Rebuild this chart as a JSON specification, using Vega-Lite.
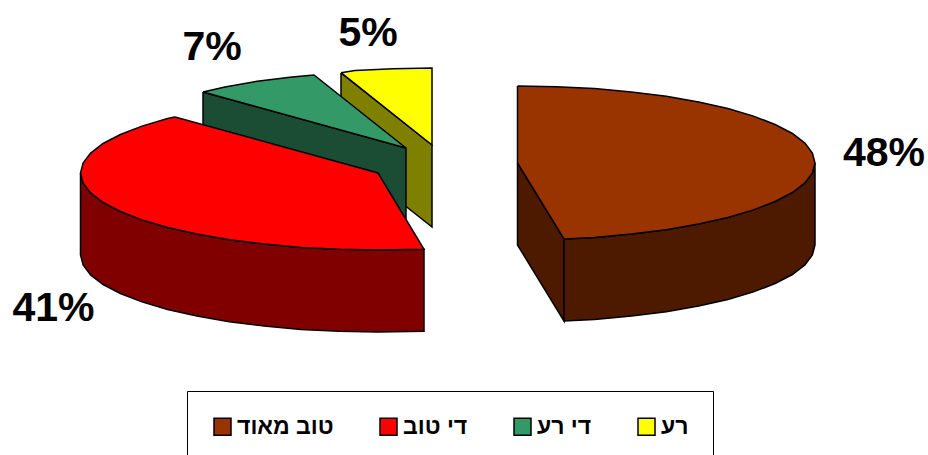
{"$schema":"https://vega.github.io/schema/vega-lite/v6.json","width":928,"height":455,"padding":0,"autosize":{"type":"none"},"background":"white","view":{"stroke":null},
"config":{"font":"Liberation Sans"},
"layer":[
{"data":{"values":[
{"face":"רע צד","part":"a","seq":1,"x":341,"y":73},{"face":"רע צד","part":"a","seq":2,"x":432,"y":145},{"face":"רע צד","part":"a","seq":3,"x":432,"y":227},{"face":"רע צד","part":"a","seq":4,"x":341,"y":155},{"face":"רע צד","part":"a","seq":5,"x":341,"y":73},
{"face":"רע","part":"t","seq":1,"x":341,"y":72.7},{"face":"רע","part":"t","seq":2,"x":355,"y":70.6},{"face":"רע","part":"t","seq":3,"x":393.2,"y":68.7},{"face":"רע","part":"t","seq":4,"x":432,"y":68},{"face":"רע","part":"t","seq":5,"x":432,"y":145},{"face":"רע","part":"t","seq":6,"x":341,"y":72.7},
{"face":"די רע צד","part":"a","seq":1,"x":203,"y":92},{"face":"די רע צד","part":"a","seq":2,"x":406,"y":148},{"face":"די רע צד","part":"a","seq":3,"x":406,"y":230},{"face":"די רע צד","part":"a","seq":4,"x":203,"y":174},{"face":"די רע צד","part":"a","seq":5,"x":203,"y":92},
{"face":"די רע","part":"t","seq":1,"x":203,"y":92},{"face":"די רע","part":"t","seq":2,"x":224.9,"y":86.9},{"face":"די רע","part":"t","seq":3,"x":257.2,"y":81.3},{"face":"די רע","part":"t","seq":4,"x":292.1,"y":76.9},{"face":"די רע","part":"t","seq":5,"x":314,"y":75},{"face":"די רע","part":"t","seq":6,"x":406,"y":148},{"face":"די רע","part":"t","seq":7,"x":203,"y":92},
{"face":"די טוב צד","part":"a","seq":1,"x":80.5,"y":173},{"face":"די טוב צד","part":"a","seq":2,"x":83.1,"y":183},{"face":"די טוב צד","part":"a","seq":3,"x":90.6,"y":192.9},{"face":"די טוב צד","part":"a","seq":4,"x":103.1,"y":202.5},{"face":"די טוב צד","part":"a","seq":5,"x":120.4,"y":211.5},{"face":"די טוב צד","part":"a","seq":6,"x":142,"y":219.9},{"face":"די טוב צד","part":"a","seq":7,"x":167.6,"y":227.4},{"face":"די טוב צד","part":"a","seq":8,"x":196.9,"y":234.1},{"face":"די טוב צד","part":"a","seq":9,"x":229.2,"y":239.7},{"face":"די טוב צד","part":"a","seq":10,"x":264.1,"y":244.1},{"face":"די טוב צד","part":"a","seq":11,"x":301,"y":247.4},{"face":"די טוב צד","part":"a","seq":12,"x":339.2,"y":249.3},{"face":"די טוב צד","part":"a","seq":13,"x":378,"y":250},{"face":"די טוב צד","part":"a","seq":14,"x":424,"y":249.3},
{"face":"די טוב צד","part":"a","seq":15,"x":424,"y":331.3},{"face":"די טוב צד","part":"a","seq":16,"x":378,"y":332},{"face":"די טוב צד","part":"a","seq":17,"x":339.2,"y":331.3},{"face":"די טוב צד","part":"a","seq":18,"x":301,"y":329.4},{"face":"די טוב צד","part":"a","seq":19,"x":264.1,"y":326.1},{"face":"די טוב צד","part":"a","seq":20,"x":229.2,"y":321.7},{"face":"די טוב צד","part":"a","seq":21,"x":196.9,"y":316.1},{"face":"די טוב צד","part":"a","seq":22,"x":167.6,"y":309.4},{"face":"די טוב צד","part":"a","seq":23,"x":142,"y":301.9},{"face":"די טוב צד","part":"a","seq":24,"x":120.4,"y":293.5},{"face":"די טוב צד","part":"a","seq":25,"x":103.1,"y":284.5},{"face":"די טוב צד","part":"a","seq":26,"x":90.6,"y":274.9},{"face":"די טוב צד","part":"a","seq":27,"x":83.1,"y":265},{"face":"די טוב צד","part":"a","seq":28,"x":80.5,"y":255},{"face":"די טוב צד","part":"a","seq":29,"x":80.5,"y":173},
{"face":"די טוב","part":"t","seq":1,"x":175,"y":117},{"face":"די טוב","part":"t","seq":2,"x":167.6,"y":118.6},{"face":"די טוב","part":"t","seq":3,"x":142,"y":126.1},{"face":"די טוב","part":"t","seq":4,"x":120.4,"y":134.5},{"face":"די טוב","part":"t","seq":5,"x":103.1,"y":143.5},{"face":"די טוב","part":"t","seq":6,"x":90.6,"y":153.1},{"face":"די טוב","part":"t","seq":7,"x":83.1,"y":163},{"face":"די טוב","part":"t","seq":8,"x":80.5,"y":173},{"face":"די טוב","part":"t","seq":9,"x":83.1,"y":183},{"face":"די טוב","part":"t","seq":10,"x":90.6,"y":192.9},{"face":"די טוב","part":"t","seq":11,"x":103.1,"y":202.5},{"face":"די טוב","part":"t","seq":12,"x":120.4,"y":211.5},{"face":"די טוב","part":"t","seq":13,"x":142,"y":219.9},{"face":"די טוב","part":"t","seq":14,"x":167.6,"y":227.4},{"face":"די טוב","part":"t","seq":15,"x":196.9,"y":234.1},{"face":"די טוב","part":"t","seq":16,"x":229.2,"y":239.7},{"face":"די טוב","part":"t","seq":17,"x":264.1,"y":244.1},{"face":"די טוב","part":"t","seq":18,"x":301,"y":247.4},{"face":"די טוב","part":"t","seq":19,"x":339.2,"y":249.3},{"face":"די טוב","part":"t","seq":20,"x":378,"y":250},{"face":"די טוב","part":"t","seq":21,"x":424,"y":249.3},{"face":"די טוב","part":"t","seq":22,"x":378,"y":173},{"face":"די טוב","part":"t","seq":23,"x":175,"y":117},
{"face":"טוב מאוד צד","part":"a","seq":1,"x":517.5,"y":163},{"face":"טוב מאוד צד","part":"a","seq":2,"x":564,"y":239},{"face":"טוב מאוד צד","part":"a","seq":3,"x":564,"y":321},{"face":"טוב מאוד צד","part":"a","seq":4,"x":517.5,"y":245},{"face":"טוב מאוד צד","part":"a","seq":5,"x":517.5,"y":163},
{"face":"טוב מאוד צד","part":"b","seq":1,"x":815,"y":163},{"face":"טוב מאוד צד","part":"b","seq":2,"x":812.4,"y":173},{"face":"טוב מאוד צד","part":"b","seq":3,"x":804.9,"y":182.9},{"face":"טוב מאוד צד","part":"b","seq":4,"x":792.4,"y":192.5},{"face":"טוב מאוד צד","part":"b","seq":5,"x":775.1,"y":201.5},{"face":"טוב מאוד צד","part":"b","seq":6,"x":753.5,"y":209.9},{"face":"טוב מאוד צד","part":"b","seq":7,"x":727.9,"y":217.4},{"face":"טוב מאוד צד","part":"b","seq":8,"x":698.6,"y":224.1},{"face":"טוב מאוד צד","part":"b","seq":9,"x":666.3,"y":229.7},{"face":"טוב מאוד צד","part":"b","seq":10,"x":631.4,"y":234.1},{"face":"טוב מאוד צד","part":"b","seq":11,"x":594.5,"y":237.4},{"face":"טוב מאוד צד","part":"b","seq":12,"x":564,"y":239},
{"face":"טוב מאוד צד","part":"b","seq":13,"x":564,"y":321},{"face":"טוב מאוד צד","part":"b","seq":14,"x":594.5,"y":319.4},{"face":"טוב מאוד צד","part":"b","seq":15,"x":631.4,"y":316.1},{"face":"טוב מאוד צד","part":"b","seq":16,"x":666.3,"y":311.7},{"face":"טוב מאוד צד","part":"b","seq":17,"x":698.6,"y":306.1},{"face":"טוב מאוד צד","part":"b","seq":18,"x":727.9,"y":299.4},{"face":"טוב מאוד צד","part":"b","seq":19,"x":753.5,"y":291.9},{"face":"טוב מאוד צד","part":"b","seq":20,"x":775.1,"y":283.5},{"face":"טוב מאוד צד","part":"b","seq":21,"x":792.4,"y":274.5},{"face":"טוב מאוד צד","part":"b","seq":22,"x":804.9,"y":264.9},{"face":"טוב מאוד צד","part":"b","seq":23,"x":812.4,"y":255},{"face":"טוב מאוד צד","part":"b","seq":24,"x":815,"y":245},{"face":"טוב מאוד צד","part":"b","seq":25,"x":815,"y":163},
{"face":"טוב מאוד","part":"t","seq":1,"x":517.5,"y":86},{"face":"טוב מאוד","part":"t","seq":2,"x":556.3,"y":86.7},{"face":"טוב מאוד","part":"t","seq":3,"x":594.5,"y":88.6},{"face":"טוב מאוד","part":"t","seq":4,"x":631.4,"y":91.9},{"face":"טוב מאוד","part":"t","seq":5,"x":666.3,"y":96.3},{"face":"טוב מאוד","part":"t","seq":6,"x":698.6,"y":101.9},{"face":"טוב מאוד","part":"t","seq":7,"x":727.9,"y":108.6},{"face":"טוב מאוד","part":"t","seq":8,"x":753.5,"y":116.1},{"face":"טוב מאוד","part":"t","seq":9,"x":775.1,"y":124.5},{"face":"טוב מאוד","part":"t","seq":10,"x":792.4,"y":133.5},{"face":"טוב מאוד","part":"t","seq":11,"x":804.9,"y":143.1},{"face":"טוב מאוד","part":"t","seq":12,"x":812.4,"y":153},{"face":"טוב מאוד","part":"t","seq":13,"x":815,"y":163},{"face":"טוב מאוד","part":"t","seq":14,"x":812.4,"y":173},{"face":"טוב מאוד","part":"t","seq":15,"x":804.9,"y":182.9},{"face":"טוב מאוד","part":"t","seq":16,"x":792.4,"y":192.5},{"face":"טוב מאוד","part":"t","seq":17,"x":775.1,"y":201.5},{"face":"טוב מאוד","part":"t","seq":18,"x":753.5,"y":209.9},{"face":"טוב מאוד","part":"t","seq":19,"x":727.9,"y":217.4},{"face":"טוב מאוד","part":"t","seq":20,"x":698.6,"y":224.1},{"face":"טוב מאוד","part":"t","seq":21,"x":666.3,"y":229.7},{"face":"טוב מאוד","part":"t","seq":22,"x":631.4,"y":234.1},{"face":"טוב מאוד","part":"t","seq":23,"x":594.5,"y":237.4},{"face":"טוב מאוד","part":"t","seq":24,"x":564,"y":239},{"face":"טוב מאוד","part":"t","seq":25,"x":517.5,"y":163},{"face":"טוב מאוד","part":"t","seq":26,"x":517.5,"y":86}
]},
"mark":{"type":"line","filled":true,"stroke":"black","strokeWidth":1.5,"strokeJoin":"miter","clip":false},
"encoding":{
"x":{"field":"x","type":"quantitative","scale":{"domain":[0,928],"nice":false,"zero":false},"axis":null},
"y":{"field":"y","type":"quantitative","scale":{"domain":[455,0],"nice":false,"zero":false},"axis":null},
"order":{"field":"seq","type":"quantitative"},
"detail":{"field":"part"},
"fill":{"field":"face","type":"nominal","sort":null,"scale":{"domain":["טוב מאוד","די טוב","די רע","רע","טוב מאוד צד","די טוב צד","די רע צד","רע צד"],"range":["#993300","#ff0000","#339966","#ffff00","#4d1a00","#800000","#1a4d33","#808000"]},
"legend":{"values":["טוב מאוד","די טוב","די רע","רע"],"title":null,"orient":"none","legendX":187,"legendY":391,"direction":"horizontal","columns":4,"padding":24,"strokeColor":"black","fillColor":"white","symbolType":"square","symbolSize":289,"symbolStrokeColor":"black","symbolStrokeWidth":1.5,"symbolOpacity":1,"labelFont":"Liberation Sans","labelFontWeight":"bold","labelFontSize":23,"labelColor":"black","labelOffset":3,"columnPadding":43,"labelLimit":200}}
}},
{"data":{"values":[{"slice":"טוב מאוד","share":0.48,"x":884,"y":154},{"slice":"די טוב","share":0.41,"x":53.5,"y":309},{"slice":"די רע","share":0.07,"x":212,"y":48},{"slice":"רע","share":0.05,"x":368,"y":34}]},
"mark":{"type":"text","font":"Liberation Sans","fontWeight":"bold","fontSize":41,"color":"black","align":"center","baseline":"middle"},
"encoding":{"x":{"field":"x","type":"quantitative"},"y":{"field":"y","type":"quantitative"},"text":{"field":"share","type":"quantitative","format":".0%"}}}
]}
